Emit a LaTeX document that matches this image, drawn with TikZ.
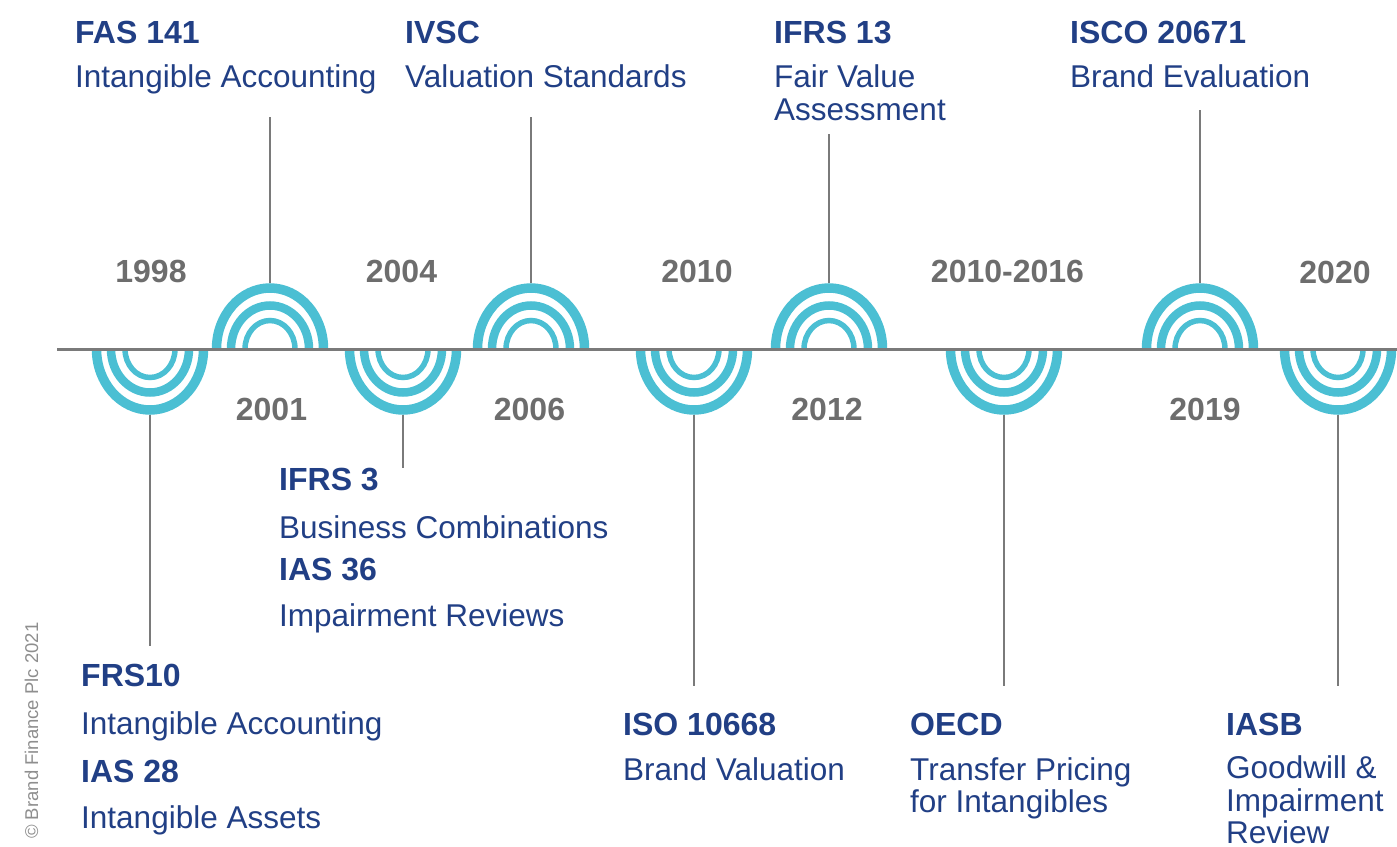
\documentclass[tikz,border=0pt]{standalone}
\usepackage{fontspec}
\setmainfont{Liberation Sans}
\definecolor{navy}{HTML}{213F85}
\definecolor{ringblue}{HTML}{4BBFD3}
\definecolor{yeargray}{HTML}{6D6D6D}
\definecolor{stemgray}{HTML}{7A7A7A}
\tikzset{
  yearlbl/.style={font=\bfseries\fontsize{32}{32}\selectfont,text=yeargray,inner sep=0pt,anchor=base},
  stdname/.style={font=\bfseries\fontsize{32}{32}\selectfont,text=navy,inner sep=0pt,anchor=base west},
  stdtext/.style={font=\fontsize{31.5}{32.5}\selectfont,text=navy,inner sep=0pt,anchor=base west,align=left},
  ring/.style={draw=ringblue,line cap=butt},
  stem/.style={draw=stemgray,line width=2pt}
}
\begin{document}
\begin{tikzpicture}[x=1pt,y=-1pt]
  \useasboundingbox (0,0) rectangle (1397,846);
  % half rings, 180 = below the line, -180 = above it
  \foreach \cx/\ea in {150/180,270/-180,403/180,531/-180,694/180,829/-180,1004/180,1200/-180,1338/180}{
    \draw[ring,line width=9.5pt](\cx+53.5,349) arc[start angle=0,end angle=\ea,x radius=53.5,y radius=61];
    \draw[ring,line width=8.5pt](\cx+39,349) arc[start angle=0,end angle=\ea,x radius=39,y radius=43.5];
    \draw[ring,line width=5.5pt](\cx+25,349) arc[start angle=0,end angle=\ea,x radius=25,y radius=28.5];
  }
  % time line
  \coordinate(L) at (57,349);
  \coordinate(R) at (1397,349);
  \draw[stemgray,line width=3pt](L)--(R);
  % stems
  \foreach \n/\cx/\ya/\yb in {fas/270/283/117,ivsc/531/283/117,ifrsb/829/283/134,isco/1200/283/110,
      frs/150/415/646,ifrsa/403/415/468,iso/694/415/686,oecd/1004/415/686,iasb/1338/415/686}{
    \coordinate(s\n) at (\cx,\ya);
    \coordinate(e\n) at (\cx,\yb);
    \draw[stem](s\n)--(e\n);
  }
  % years
  \node[yearlbl](Y1998) at (151,282) {1998};
  \node[yearlbl](Y2001) at (271.5,420) {2001};
  \node[yearlbl](Y2004) at (401.5,282) {2004};
  \node[yearlbl](Y2006) at (529.5,420) {2006};
  \node[yearlbl](Y2010) at (697,282) {2010};
  \node[yearlbl](Y2012) at (827,420) {2012};
  \node[yearlbl](Y2016) at (1007.5,282) {2010-2016};
  \node[yearlbl](Y2019) at (1205,420) {2019};
  \node[yearlbl](Y2020) at (1335,283.5) {2020};
  % above the line (multi-line texts sit on their last baseline)
  \node[stdname](FAS) at (75,43) {FAS 141};
  \node[stdtext](FAStxt) at (75,87) {Intangible Accounting};
  \node[stdname](IVSC) at (405,43) {IVSC};
  \node[stdtext](IVSCtxt) at (405,87) {Valuation Standards};
  \node[stdname](IFRSb) at (774,43) {IFRS 13};
  \node[stdtext](IFRSbtxt) at (774,120) {Fair Value\\Assessment};
  \node[stdname](ISCO) at (1070,43) {ISCO 20671};
  \node[stdtext](ISCOtxt) at (1070,87) {Brand Evaluation};
  % below the line
  \node[stdname](FRS) at (81,686) {FRS10};
  \node[stdtext](FRStxt) at (81,734) {Intangible Accounting};
  \node[stdname](IASa) at (81,782.5) {IAS 28};
  \node[stdtext](IASatxt) at (81,828.5) {Intangible Assets};
  \node[stdname](IFRSa) at (279,490.5) {IFRS 3};
  \node[stdtext](IFRSatxt) at (279,538) {Business Combinations};
  \node[stdname](IASb) at (279,580) {IAS 36};
  \node[stdtext](IASbtxt) at (279,626) {Impairment Reviews};
  \node[stdname](ISO) at (623,735) {ISO 10668};
  \node[stdtext](ISOtxt) at (623,780) {Brand Valuation};
  \node[stdname](OECD) at (910,735) {OECD};
  \node[stdtext](OECDtxt) at (910,812.5) {Transfer Pricing\\for Intangibles};
  \node[stdname](IASB) at (1226,735) {IASB};
  \node[stdtext](IASBtxt) at (1226,843.5) {Goodwill \&\\Impairment\\Review};
  % copyright
  \node[rotate=90,anchor=base west,inner sep=0pt,text=stemgray!85,font=\fontsize{18.5}{18.5}\selectfont](copy) at (38,839) {© Brand Finance Plc 2021};
\end{tikzpicture}
\end{document}
